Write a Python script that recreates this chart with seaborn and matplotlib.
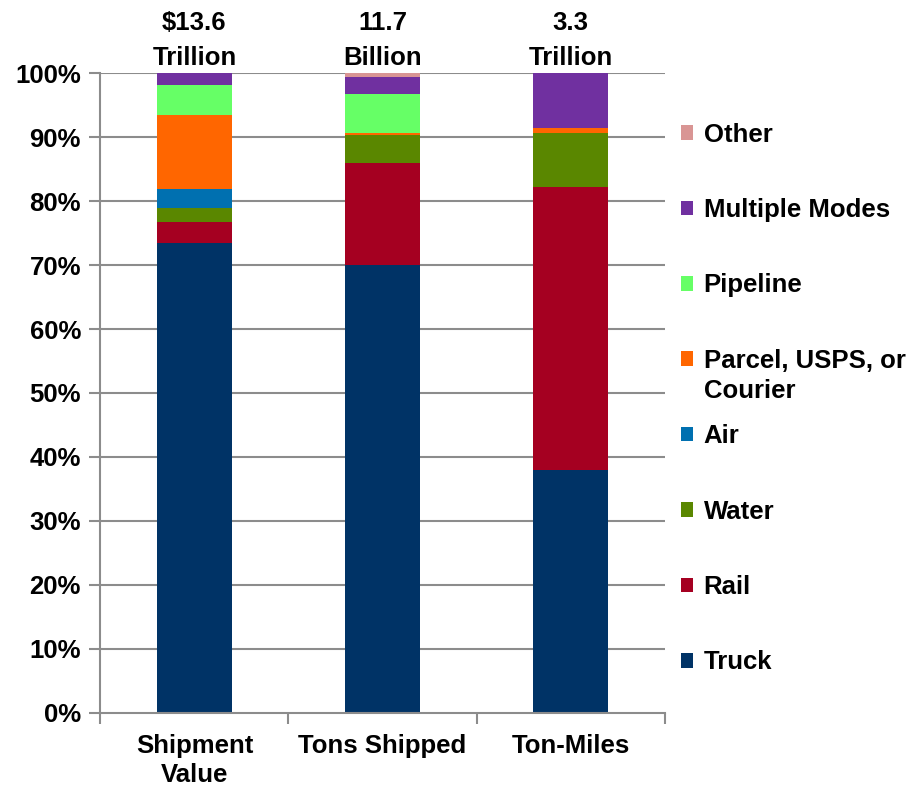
import numpy as np
import pandas as pd
import matplotlib
matplotlib.use("Agg")
import matplotlib.pyplot as plt
import matplotlib.patches as mpatches
import seaborn as sns

categories = ["Shipment\nValue", "Tons Shipped", "Ton-Miles"]
top_labels = ["\\$13.6\nTrillion", "11.7\nBillion", "3.3\nTrillion"]
modes = ["Truck", "Rail", "Water", "Air", "Parcel, USPS, or\nCourier",
         "Pipeline", "Multiple Modes", "Other"]
truck = [73.5, 70.0, 38.0]
rail = [3.3, 15.9, 44.2]
water = [2.1, 4.4, 8.4]
air = [3.0, 0.0, 0.0]
parcel = [11.6, 0.3, 0.8]
pipeline = [4.6, 6.1, 0.0]
multiple = [1.9, 2.7, 8.6]
other = [0.0, 0.6, 0.0]
colors = ["#003366", "#A50021", "#5A8700", "#0070B0", "#FF6600",
          "#66FF66", "#7030A0", "#D99594"]

series = [truck, rail, water, air, parcel, pipeline, multiple, other]
df = pd.DataFrame({m: s for m, s in zip(modes, series)}, index=categories)
cum = df.cumsum(axis=1)

sns.set_theme(style="white")
plt.rcParams["font.family"] = ["Liberation Sans", "DejaVu Sans"]
plt.rcParams["font.weight"] = "bold"
plt.rcParams["text.color"] = "black"
plt.rcParams["xtick.color"] = "black"
plt.rcParams["ytick.color"] = "black"

fig = plt.figure(figsize=(9.12, 7.86), dpi=100)
ax = fig.add_axes([0.11, 0.093, 0.619, 0.814])

grid_c = "#8C8C8C"
for yv in np.arange(10, 101, 10):
    ax.axhline(yv, color=grid_c, lw=1.5, zorder=0)

for m, c in reversed(list(zip(modes, colors))):
    d = pd.DataFrame({"cat": categories, "val": cum[m].values})
    sns.barplot(data=d, x="cat", y="val", order=categories, color=c,
                saturation=1, width=0.4, ax=ax, zorder=2, linewidth=0)

ax.set_xlim(-0.5, 2.5)
ax.set_ylim(0, 100)
ax.set_xlabel("")
ax.set_ylabel("")
ax.set_yticks(np.arange(0, 101, 10))
ax.set_yticklabels([f"{v}%" for v in range(0, 101, 10)], fontsize=18.5,
                   fontweight="bold", color="black")
ax.set_xticks([0, 1, 2])
ax.set_xticklabels(categories, fontsize=18.5, fontweight="bold", color="black",
                   linespacing=1.3)
ax.set_xticks([-0.5, 0.5, 1.5, 2.5], minor=True)
ax.tick_params(axis="x", which="major", length=0, pad=15)
ax.tick_params(axis="x", which="minor", length=8, width=1.5, color=grid_c,
               direction="out", bottom=True)
ax.tick_params(axis="y", length=8, width=1.5, color=grid_c, direction="out",
               left=True, pad=6, labelcolor="black")
for s in ["top", "right"]:
    ax.spines[s].set_visible(False)
for s in ["left", "bottom"]:
    ax.spines[s].set_color(grid_c)
    ax.spines[s].set_linewidth(1.5)
    ax.spines[s].set_zorder(3)

for i, t in enumerate(top_labels):
    ax.annotate(t, xy=(i, 100), xytext=(0, 2), textcoords="offset points",
                ha="center", va="bottom", fontsize=18.5, fontweight="bold",
                color="black", linespacing=1.6, annotation_clip=False)

# legend: first line of each label in the legend, continuation lines as text
first_lines = [m.split("\n")[0] for m in modes]
handles = [mpatches.Patch(facecolor=c, edgecolor="none", label=l)
           for l, c in zip(first_lines, colors)][::-1]
leg = fig.legend(handles=handles, loc="upper left",
                 bbox_to_anchor=(0.735, 0.857),
                 frameon=False, prop={"size": 18.5, "weight": "bold"},
                 labelcolor="black",
                 handlelength=0.5, handleheight=0.5, handletextpad=0.4,
                 labelspacing=2.0, borderaxespad=0)
fig.canvas.draw()
renderer = fig.canvas.get_renderer()
for txt, full in zip(leg.get_texts(), modes[::-1]):
    rest = full.split("\n")[1:]
    if rest:
        bb = txt.get_window_extent(renderer)
        x0, y0 = fig.transFigure.inverted().transform((bb.x0, bb.y0))
        fig.text(x0, y0 - 0.008, "\n".join(rest), ha="left", va="top",
                 fontsize=18.5, fontweight="bold", color="black")

fig.savefig("out.png", dpi=100)
